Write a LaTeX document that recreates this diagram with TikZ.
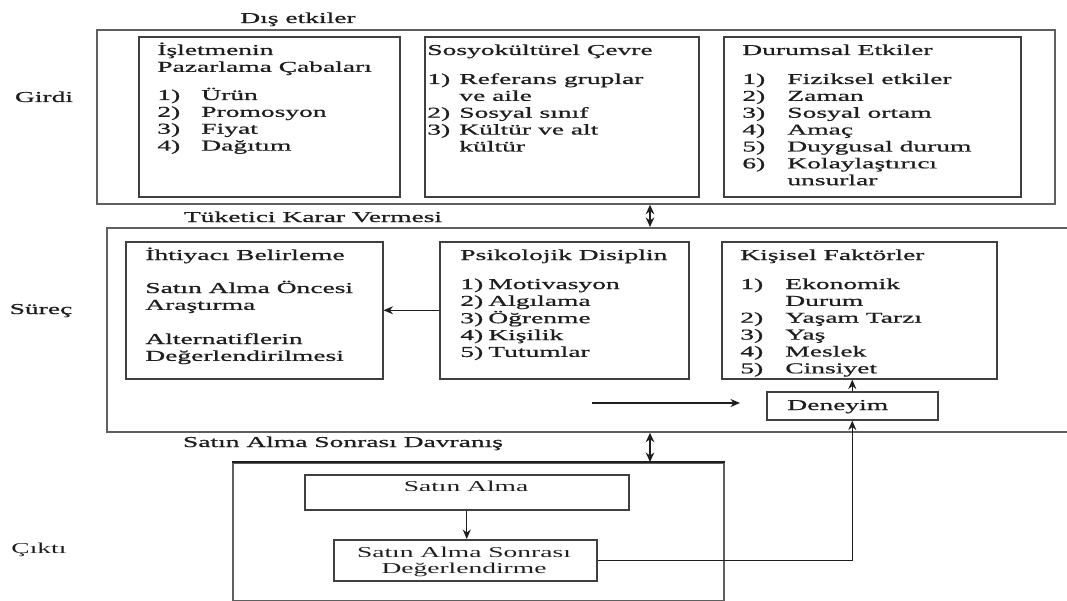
\documentclass[tikz,border=0pt]{standalone}
\usepackage{fontspec}
\setmainfont{Liberation Serif}[FakeStretch=1.82,FakeBold=0.8]
\newfontfamily\thinserif{Liberation Serif}[FakeStretch=1.82]
\usetikzlibrary{arrows.meta,positioning}
\definecolor{ink}{RGB}{30,30,30}
\definecolor{edge}{RGB}{95,95,95}
\newcommand{\boxfont}{\fontsize{8.6}{9.6}\selectfont}
\newcommand{\lines}[1]{\begin{tabular}[t]{@{}l@{}}#1\end{tabular}}
\newcommand{\clines}[1]{\begin{tabular}[t]{@{}c@{}}#1\end{tabular}}
\newcommand{\items}[2]{\begin{tabular}[t]{@{}p{#1}@{}l@{}}#2\end{tabular}}
\tikzset{
  frame/.style={draw=edge,line width=1pt,anchor=north west,inner sep=0pt},
  panel/.style={draw=ink!85,line width=0.9pt,anchor=north west,inner sep=0pt},
  head/.style={anchor=base west,inner sep=0pt,text=ink,font=\boxfont},
  side/.style={anchor=base,inner sep=0pt,text=ink,font=\boxfont},
  thin/.style={side,font=\boxfont\thinserif},
  arr/.style={-{Stealth[length=1.9mm,width=1.6mm]},line width=0.8pt,ink},
  darr/.style={{Stealth[length=1.9mm,width=1.7mm]}-{Stealth[length=1.9mm,width=1.7mm]},
    line width=1.1pt,ink},
}

\begin{document}
\begin{tikzpicture}[x=0.02cm,y=-0.02cm]
\useasboundingbox (0,0) rectangle (1067,601);
% girdi: dis etkiler
\node[frame,minimum width=19.16cm,minimum height=3.48cm] (infl) at (96,29) {};
\node[panel,minimum width=5.22cm,minimum height=3.2cm] (mkt) at (138,36) {};
\node[panel,minimum width=5.48cm,minimum height=3.2cm] (soc) at (424,36) {};
\node[panel,minimum width=5.94cm,minimum height=3.2cm] (sit) at (723,36) {};
\node[head] (mkthd) at (157,55) {\lines{İşletmenin\\Pazarlama Çabaları}};
\node[head] (mktls) at (157,100) {\items{0.88cm}{1)&Ürün\\2)&Promosyon\\3)&Fiyat\\4)&Dağıtım}};
\node[head] (sochd) at (427,55) {Sosyokültürel Çevre};
\node[head] (socls) at (427,84) {\items{0.64cm}{1)&Referans gruplar\\&ve aile\\2)&Sosyal sınıf\\3)&Kültür ve alt\\&kültür}};
\node[head] (sithd) at (742,55) {Durumsal Etkiler};
\node[head] (sitls) at (742,84) {\items{0.9cm}{1)&Fiziksel etkiler\\2)&Zaman\\3)&Sosyal ortam\\4)&Amaç\\5)&Duygusal durum\\6)&Kolaylaştırıcı\\&unsurlar}};

% surec: tuketici karar vermesi
\node[frame,minimum width=19.38cm,minimum height=4.08cm] (proc) at (106,227) {};
\node[panel,minimum width=5.14cm,minimum height=2.74cm] (need) at (125,241) {};
\node[panel,minimum width=4.98cm,minimum height=2.74cm] (psy) at (439,241) {};
\node[panel,minimum width=5.5cm,minimum height=2.74cm] (pers) at (721,241) {};
\node[panel,minimum width=3.42cm,minimum height=0.56cm] (exp) at (766,391) {};
\node[head] (needhd) at (145,260) {İhtiyacı Belirleme};
\node[head] (needa) at (145,293) {\lines{Satın Alma Öncesi\\Araştırma}};
\node[head] (needb) at (145,344) {\lines{Alternatiflerin\\Değerlendirilmesi}};
\node[head] (psyhd) at (460,260) {Psikolojik Disiplin};
\node[head] (psyls) at (460,289) {\items{0.56cm}{1)&Motivasyon\\2)&Algılama\\3)&Öğrenme\\4)&Kişilik\\5)&Tutumlar}};
\node[head] (pershd) at (740,260) {Kişisel Faktörler};
\node[head] (persls) at (740,289) {\items{0.9cm}{1)&Ekonomik\\&Durum\\2)&Yaşam Tarzı\\3)&Yaş\\4)&Meslek\\5)&Cinsiyet}};
\node[head] (exptx) at (787,410) {Deneyim};

% cikti: satin alma sonrasi davranis
\node[frame,minimum width=9.82cm,minimum height=2.76cm] (outp) at (232,462) {};
\draw[ink,line width=1.6pt] (outp.north west) -- (outp.north east);
\node[panel,minimum width=6.48cm,minimum height=0.7cm] (buy) at (304,474) {};
\node[panel,minimum width=5.26cm,minimum height=0.82cm] (eval) at (333,539) {};
\node[thin] (buytx) at (466,491) {Satın Alma};
\node[thin] (evaltx) at (464,557) {\clines{Satın Alma Sonrası\\Değerlendirme}};

% kenar etiketleri
\node[side] (lblext) at (298,23) {Dış etkiler};
\node[side] (lblin) at (44,102) {Girdi};
\node[side] (lbldec) at (313,222) {Tüketici Karar Vermesi};
\node[side] (lblproc) at (41,314) {Süreç};
\node[side] (lblpost) at (343,447) {Satın Alma Sonrası Davranış};
\node[thin] (lblout) at (39,553) {Çıktı};

% baglantilar
\coordinate (axis) at (650,0);
\coordinate (flowa) at (592,403);
\coordinate (flowb) at (740,403);
\draw[darr] (infl.south -| axis) -- (proc.north -| axis);
\draw[darr] (proc.south -| axis) -- (outp.north -| axis);
\draw[arr] (psy.west) -- (need.east);
\draw[arr] (flowa) -- (flowb);
\draw[arr] (exp.north) -- (exp.north |- pers.south);
\draw[arr] (buy.south) -- (buy.south |- eval.north);
\draw[arr] (eval.east) -| (exp.south);
\end{tikzpicture}
\end{document}
